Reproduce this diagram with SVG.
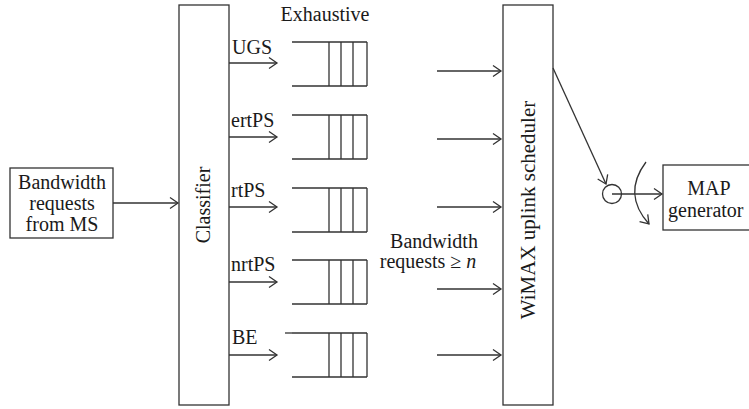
<svg xmlns="http://www.w3.org/2000/svg" width="749" height="409" viewBox="0 0 749 409">
<style>
.ln{fill:none;stroke:#333;stroke-width:1.3}
.bx{fill:#fff;stroke:#333;stroke-width:1.3}
.t{font-family:"Liberation Serif","Times New Roman",serif;font-size:20px;fill:#1a1a1a}
.b{font-size:21px}
.m{text-anchor:middle}
</style>
<defs>
<marker id="ah" markerWidth="14" markerHeight="14" refX="11" refY="7" orient="auto" markerUnits="userSpaceOnUse">
<path d="M3,1.5 L11,7 L3,12.5" fill="none" stroke="#333" stroke-width="1.3"/>
</marker>
<g id="q">
<path class="ln" d="M0,0 H75 M0,44 H75 M37,0 V44 M49,0 V44 M61,0 V44 M75,0 V44"/>
</g>
</defs>
<rect width="749" height="409" fill="#fff"/>

<g id="source">
<rect class="bx" x="10" y="168" width="103" height="70"/>
<text class="t m" font-size="19.5" x="62" y="189">Bandwidth</text>
<text class="t m" font-size="19.5" x="62" y="210">requests</text>
<text class="t m" font-size="19.5" x="62" y="231">from MS</text>
</g>

<g id="classifier">
<rect class="bx" x="179" y="5" width="50" height="400"/>
<text class="t m" font-size="19" transform="translate(210,205) rotate(-90)">Classifier</text>
</g>

<text class="t m" x="325" y="21">Exhaustive</text>

<g id="queue-ugs">
<text class="t" x="232" y="54">UGS</text>
<use href="#q" x="292" y="42"/>
</g>
<g id="queue-ertps">
<text class="t" x="231" y="127">ertPS</text>
<use href="#q" x="292" y="115"/>
</g>
<g id="queue-rtps">
<text class="t" x="231" y="197">rtPS</text>
<use href="#q" x="292" y="188"/>
</g>
<g id="queue-nrtps">
<text class="t" x="231" y="271">nrtPS</text>
<use href="#q" x="292" y="260"/>
</g>
<g id="queue-be">
<text class="t" x="232" y="344">BE</text>
<use href="#q" x="292" y="333"/>
<path class="ln" d="M285,333 H292"/>
</g>

<g id="scheduler">
<rect class="bx" x="503" y="5" width="50" height="400"/>
<text class="t b m" transform="translate(535,210) rotate(-90)">WiMAX uplink scheduler</text>
</g>

<g id="bw-label">
<text class="t m" x="434" y="248">Bandwidth</text>
<text class="t m" x="428" y="268">requests ≥ <tspan font-style="italic">n</tspan></text>
</g>

<g id="map">
<rect class="bx" x="663" y="165" width="100" height="65"/>
<text class="t m" x="709" y="195">MAP</text>
<text class="t" x="668" y="217">generator</text>
</g>

<g id="switch">
<circle class="ln" cx="612" cy="194" r="9.5"/>
</g>

<g id="connectors">
<path class="ln" d="M113,203 H178" marker-end="url(#ah)"/>
<path class="ln" d="M229,63 H277" marker-end="url(#ah)"/>
<path class="ln" d="M229,137 H277" marker-end="url(#ah)"/>
<path class="ln" d="M229,207 H277" marker-end="url(#ah)"/>
<path class="ln" d="M229,282 H277" marker-end="url(#ah)"/>
<path class="ln" d="M229,355 H277" marker-end="url(#ah)"/>
<path class="ln" d="M437,71 H501" marker-end="url(#ah)"/>
<path class="ln" d="M437,139 H501" marker-end="url(#ah)"/>
<path class="ln" d="M437,207 H501" marker-end="url(#ah)"/>
<path class="ln" d="M437,289 H501" marker-end="url(#ah)"/>
<path class="ln" d="M437,355 H501" marker-end="url(#ah)"/>
<path class="ln" d="M553,68 L606,184" marker-end="url(#ah)"/>
<path class="ln" d="M612,194 H662" marker-end="url(#ah)"/>
<path class="ln" d="M646,162 Q622,194 649,224" marker-end="url(#ah)"/>
</g>
</svg>
